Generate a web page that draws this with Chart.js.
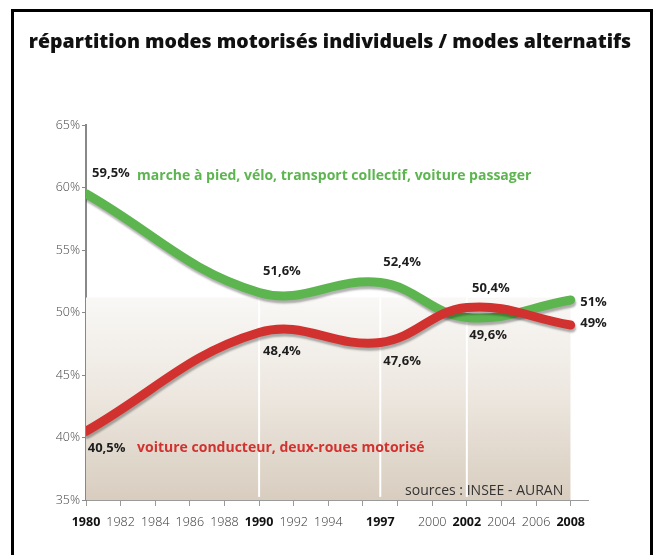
<!DOCTYPE html>
<html><head><meta charset="utf-8">
<script src="https://cdn.jsdelivr.net/npm/chart.js@4.4.1/dist/chart.umd.min.js"></script>
<style>
html,body{margin:0;padding:0;background:#fff;}
#wrap{position:relative;width:657px;height:555px;overflow:hidden;}
#frame{position:absolute;left:11px;top:9px;width:636px;height:560px;border:3px solid #000;border-bottom:none;pointer-events:none;}
canvas{position:absolute;left:0;top:0;}
</style></head><body>
<div id="wrap"><canvas id="c" width="657" height="555"></canvas><div id="frame"></div></div>
<script>
// ---- data ----
const years = [1980, 1990, 1997, 2002, 2008];
const alternatifs = [59.5, 51.6, 52.4, 49.6, 51.0];
const motorises = [40.5, 48.4, 47.6, 50.4, 49.0];
const tickYears = [1980,1982,1984,1986,1988,1990,1992,1994,1996,1997,1998,2000,2002,2004,2006,2008];
const hiddenLabelYears = [1996, 1998];
const boldYears = [1980, 1990, 1997, 2002, 2008];
const dividerYears = [1990, 1997, 2002];
const bandLevel = 51.2;
const yTicks = [35, 40, 45, 50, 55, 60, 65];
const titleText = 'répartition modes motorisés individuels / modes alternatifs';
const labelAlt = 'marche à pied, vélo, transport collectif, voiture passager';
const labelMot = 'voiture conducteur, deux-roues motorisé';
const sourceText = 'sources : INSEE - AURAN';

const GREEN = '#5db550';
const RED = '#d2322f';
const FONT = "'Open Sans', 'DejaVu Sans', sans-serif";

// annotations: [text, year, value, align, kind]
const notes = [
  ['59,5%', 1980.35, 61.1, 'left', 'val'],
  [labelAlt, 1982.95, 60.95, 'left', 'green'],
  ['40,5%', 1980.1, 39.15, 'left', 'val'],
  [labelMot, 1982.95, 39.15, 'left', 'red'],
  ['51,6%', 1990.23, 53.3, 'left', 'val'],
  ['52,4%', 1997.17, 54.05, 'left', 'val'],
  ['48,4%', 1990.23, 46.9, 'left', 'val'],
  ['47,6%', 1997.17, 46.1, 'left', 'val'],
  ['50,4%', 2002.3, 51.9, 'left', 'val'],
  ['49,6%', 2002.14, 48.2, 'left', 'val'],
  ['51%', 2008.55, 50.85, 'left', 'val'],
  ['49%', 2008.55, 49.15, 'left', 'val'],
  [sourceText, 2007.57, 35.7, 'right', 'src']
];

const pts = (vals) => years.map((y, i) => ({x: y, y: vals[i]}));

const datasets = [
  {
    data: [{x: years[0], y: bandLevel}, {x: years[years.length-1], y: bandLevel}],
    fill: 'start', borderWidth: 0, pointRadius: 0, tension: 0, order: 10,
    backgroundColor: (ctx) => {
      const ch = ctx.chart; const a = ch.chartArea;
      if (!a) return '#eee';
      const ys = ch.scales.y;
      const g = ch.ctx.createLinearGradient(0, ys.getPixelForValue(bandLevel), 0, a.bottom);
      g.addColorStop(0, '#f9f8f6');
      g.addColorStop(0.5, '#ece6de');
      g.addColorStop(1, '#d8cdbf');
      return g;
    }
  },
  ...dividerYears.map(yr => ({
    data: [{x: yr, y: 35.25}, {x: yr, y: bandLevel}],
    borderColor: '#ffffff', borderWidth: 2, pointRadius: 0, fill: false, tension: 0, order: 5
  })),
  { id: 'alt', data: pts(alternatifs), borderColor: GREEN, borderWidth: 9, pointRadius: 0,
    tension: 0.4, fill: false, borderCapStyle: 'round', borderJoinStyle: 'round', order: 2, shadow: true },
  { id: 'mot', data: pts(motorises), borderColor: RED, borderWidth: 9, pointRadius: 0,
    tension: 0.4, fill: false, borderCapStyle: 'round', borderJoinStyle: 'round', order: 1, shadow: true }
];

const shadowPlugin = {
  id: 'shadow',
  beforeDatasetDraw(chart, args) {
    const ds = chart.data.datasets[args.index];
    if (ds.shadow) {
      const c = chart.ctx; c.save();
      c.shadowColor = 'rgba(0,0,0,0.3)'; c.shadowOffsetX = 1; c.shadowOffsetY = 3; c.shadowBlur = 2;
      ds._sh = true;
    }
  },
  afterDatasetDraw(chart, args) {
    const ds = chart.data.datasets[args.index];
    if (ds._sh) { chart.ctx.restore(); ds._sh = false; }
  }
};

const textPlugin = {
  id: 'texts',
  afterDraw(chart) {
    const c = chart.ctx, xs = chart.scales.x, ys = chart.scales.y;
    c.save();
    c.textBaseline = 'middle';
    c.fillStyle = '#111';
    c.font = '800 19.5px ' + FONT;
    c.textAlign = 'center';
    c.fillText(titleText, 330, 42);
    for (const [t, yr, v, al, kind] of notes) {
      const px = xs.getPixelForValue(yr), py = ys.getPixelForValue(v);
      c.textAlign = al;
      if (kind === 'val') { c.font = 'bold 13px ' + FONT; c.fillStyle = '#1e1e1e'; }
      else if (kind === 'green') { c.font = 'bold 14px ' + FONT; c.fillStyle = GREEN; }
      else if (kind === 'red') { c.font = 'bold 14px ' + FONT; c.fillStyle = RED; }
      else { c.font = '14px ' + FONT; c.fillStyle = '#333'; }
      c.fillText(t, px, py);
    }
    c.restore();
  }
};

new Chart(document.getElementById('c'), {
  type: 'line',
  data: { datasets },
  plugins: [shadowPlugin, textPlugin],
  options: {
    responsive: false, animation: false,
    layout: { padding: { left: 0, right: 69, top: 125, bottom: 0 } },
    plugins: { legend: { display: false }, tooltip: { enabled: false } },
    scales: {
      x: {
        type: 'linear', min: 1980, max: 2009,
        afterBuildTicks: (s) => { s.ticks = tickYears.map(v => ({value: v})); },
        afterFit: (s) => { s.height = 55; },
        border: { color: '#9a9a9a', width: 1 },
        grid: { drawOnChartArea: false, drawTicks: true, tickLength: 6,
          tickColor: (ctx) => (ctx.tick && ctx.tick.value === 1997) ? 'rgba(0,0,0,0)' : '#9a9a9a' },
        ticks: {
          autoSkip: false, maxRotation: 0, padding: 9,
          callback: (v) => hiddenLabelYears.includes(v) ? '' : String(v),
          font: (ctx) => boldYears.includes(ctx.tick && ctx.tick.value) ? {family: FONT, size: 12.5, weight: 'bold'} : {family: FONT, size: 12.5, weight: '300'},
          color: (ctx) => boldYears.includes(ctx.tick && ctx.tick.value) ? '#111' : '#333'
        }
      },
      y: {
        min: 35, max: 65, z: 1,
        afterBuildTicks: (s) => { s.ticks = yTicks.map(v => ({value: v})); },
        afterFit: (s) => { s.width = 86; },
        border: { color: '#888888', width: 2 },
        grid: { drawOnChartArea: false, drawTicks: true, tickLength: 4, tickColor: '#888888' },
        ticks: { padding: 2, color: '#444', font: {family: FONT, size: 12.5, weight: '300'},
          callback: (v) => v + '%' }
      }
    }
  }
});
</script>
</body></html>
